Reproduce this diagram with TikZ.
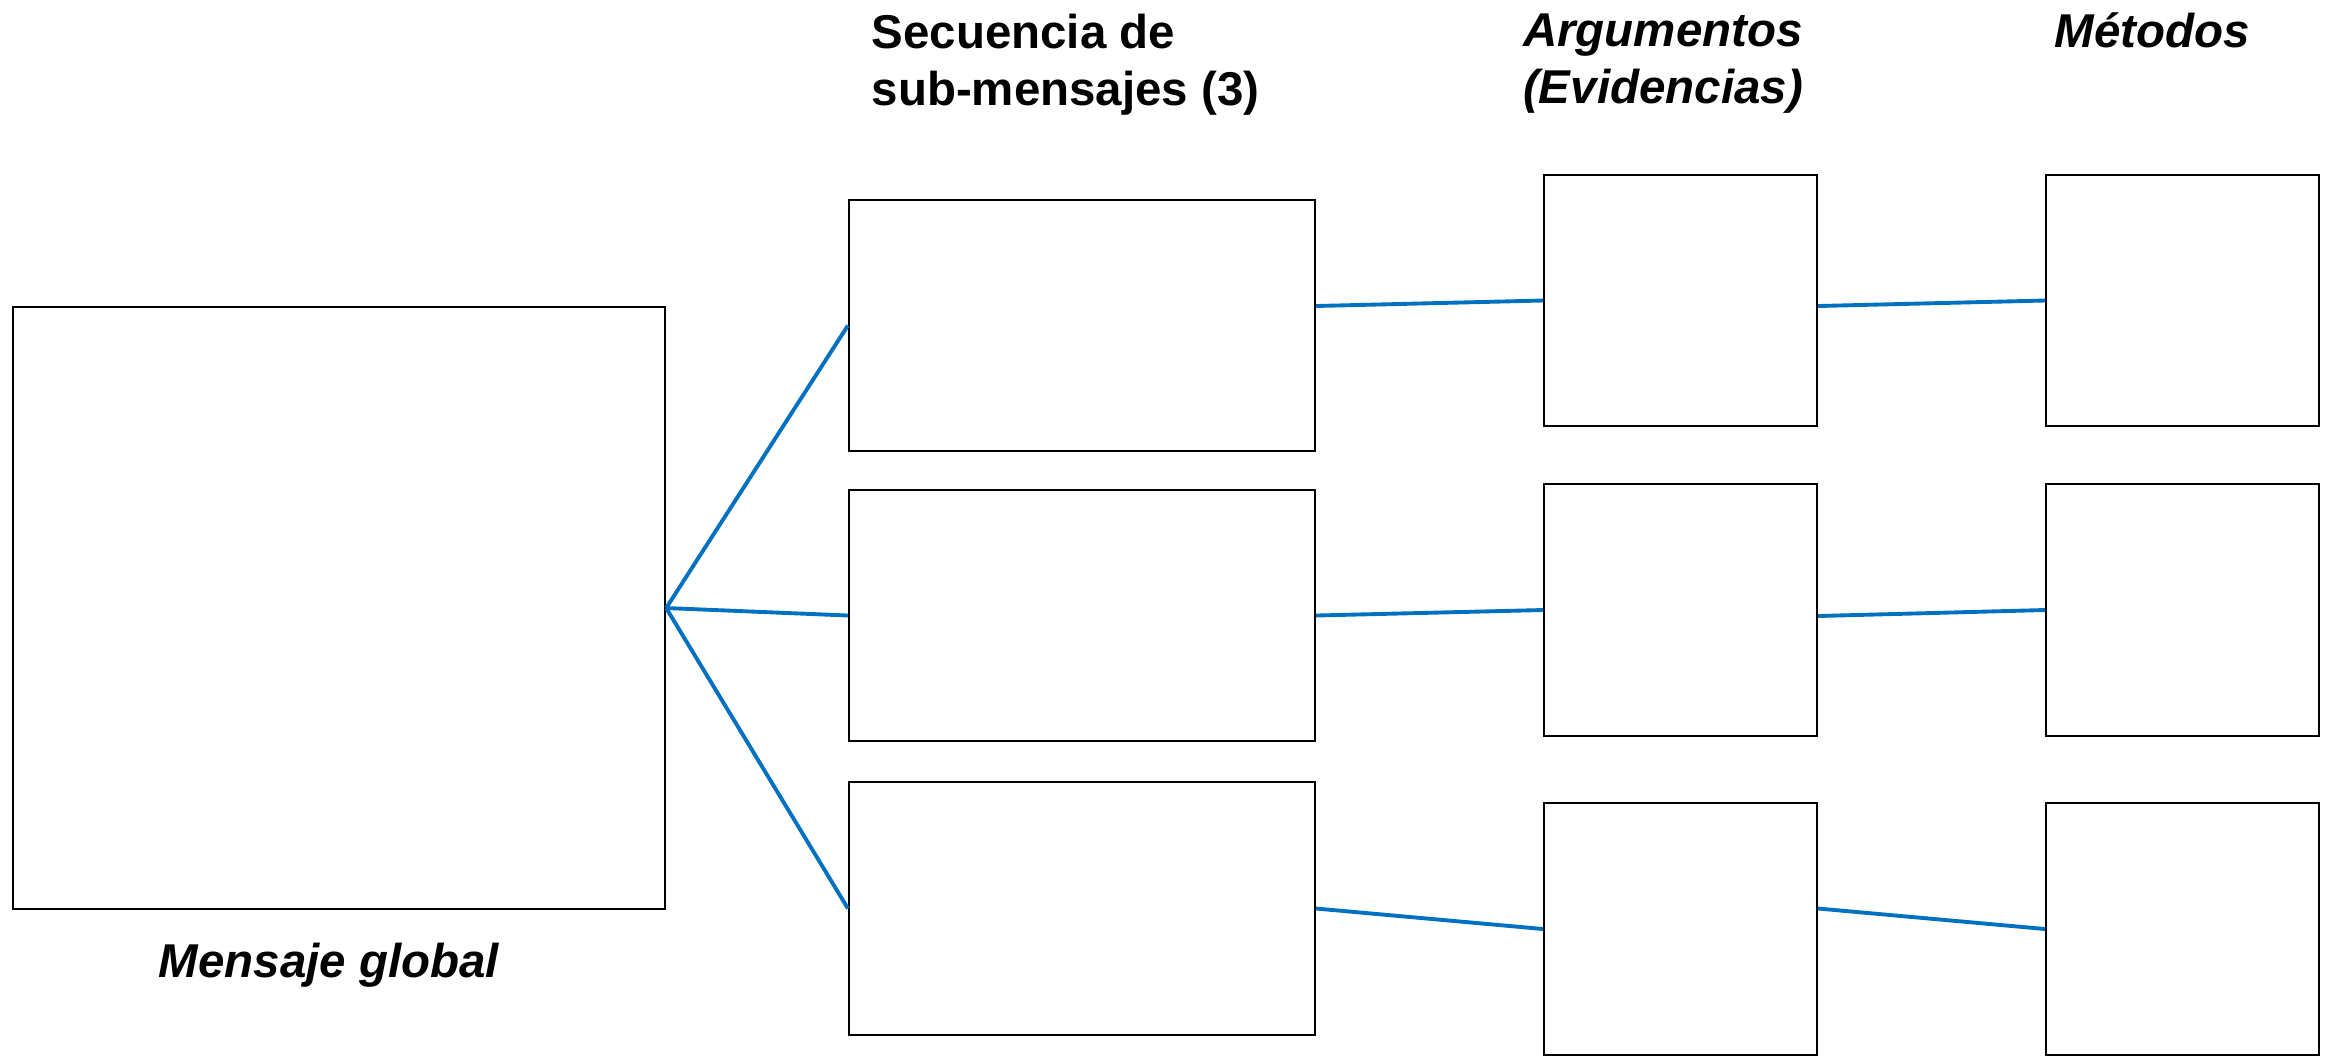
\documentclass[tikz,border=0pt]{standalone}
\usepackage{fontspec}
\setmainfont{Liberation Sans}
\definecolor{linkblue}{HTML}{0070C0}
\tikzset{
    box/.style = {draw, line width = 0.55pt, inner sep = 0pt},
    link/.style = {draw = linkblue, line width = 1.1pt},
    head/.style = {inner sep = 0pt, font = \fontsize{13.5}{16.2}\selectfont\bfseries}
}
\begin{document}
\begin{tikzpicture}[x = 0.01cm, y = 0.01cm]

        \useasboundingbox (0, 0) rectangle (2328, -1056);

        % titulos
        \node (t1) at (871, -13) [head, anchor = north west, align = left] {Secuencia de\\sub-mensajes (3)};
        \node (t2) at (1663, -13) [head, anchor = north, align = center] {\itshape Argumentos\\\itshape (Evidencias)};
        \node (t3) at (2152, -47) [head, anchor = base] {\itshape Métodos};
        \node (t4) at (329, -977) [head, anchor = base] {\itshape Mensaje global};

        % mensaje global
        \node (g) at (339, -608) [box, minimum width = 6.52cm, minimum height = 6.02cm] {};

        % sub-mensajes
        \node (s1) at (1082, -325.5) [box, minimum width = 4.66cm, minimum height = 2.51cm] {};
        \node (s2) at (1082, -615.5) [box, minimum width = 4.66cm, minimum height = 2.51cm] {};
        \node (s3) at (1082, -908.5) [box, minimum width = 4.66cm, minimum height = 2.53cm] {};

        % argumentos
        \node (a1) at (1680.5, -300.5) [box, minimum width = 2.73cm, minimum height = 2.51cm] {};
        \node (a2) at (1680.5, -610) [box, minimum width = 2.73cm, minimum height = 2.51cm] {};
        \node (a3) at (1680.5, -929) [box, minimum width = 2.73cm, minimum height = 2.51cm] {};

        % metodos
        \node (m1) at (2182.5, -300.5) [box, minimum width = 2.73cm, minimum height = 2.51cm] {};
        \node (m2) at (2182.5, -610) [box, minimum width = 2.73cm, minimum height = 2.51cm] {};
        \node (m3) at (2182.5, -929) [box, minimum width = 2.73cm, minimum height = 2.51cm] {};

        \draw [link] (g.east) -- (s1.west);
        \draw [link] (g.east) -- (s2.west);
        \draw [link] (g.east) -- (s3.west);

        \draw [link] ([yshift = 0.195cm]s1.east) -- (a1.west);
        \draw [link] (s2.east) -- (a2.west);
        \draw [link] (s3.east) -- (a3.west);

        \draw [link] ([yshift = -0.055cm]a1.east) -- (m1.west);
        \draw [link] ([yshift = -0.06cm]a2.east) -- (m2.west);
        \draw [link] ([yshift = 0.205cm]a3.east) -- (m3.west);

    \end{tikzpicture}
\end{document}
